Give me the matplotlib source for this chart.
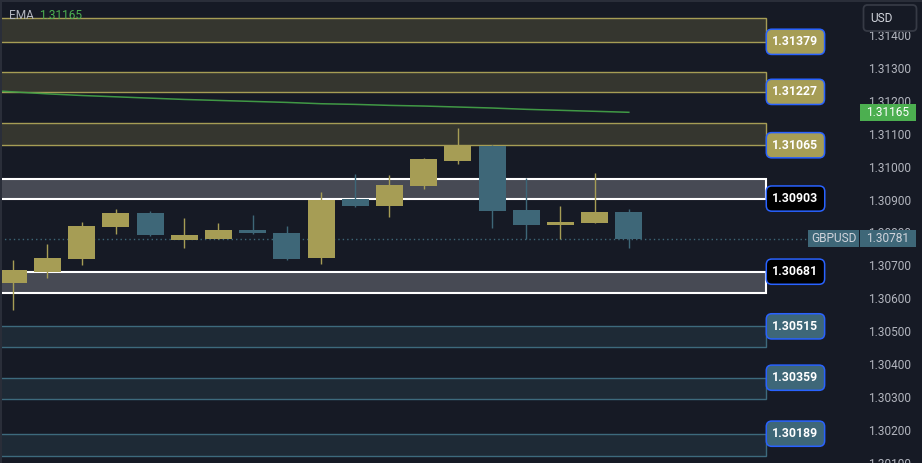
import matplotlib
matplotlib.use("Agg")
import matplotlib.pyplot as plt
import matplotlib.transforms as mtransforms
from matplotlib.patches import Rectangle, FancyBboxPatch

plt.rcParams['font.family'] = ['Roboto', 'DejaVu Sans']

# ---------------- data ----------------
opens  = [1.30646, 1.30679, 1.30719, 1.30816, 1.30858, 1.30776, 1.30779, 1.30807, 1.30797, 1.30722,
          1.30901, 1.30879, 1.30940, 1.31016, 1.31064, 1.30867, 1.30822, 1.30828, 1.30861]
highs  = [1.30716, 1.30764, 1.30831, 1.30870, 1.30864, 1.30843, 1.30828, 1.30852, 1.30819, 1.30922,
          1.30979, 1.30976, 1.31025, 1.31116, 1.31066, 1.30964, 1.30879, 1.30982, 1.30870]
lows   = [1.30564, 1.30661, 1.30700, 1.30794, 1.30790, 1.30752, 1.30779, 1.30794, 1.30716, 1.30703,
          1.30876, 1.30846, 1.30931, 1.31007, 1.30813, 1.30779, 1.30779, 1.30828, 1.30752]
closes = [1.30685, 1.30722, 1.30819, 1.30858, 1.30791, 1.30791, 1.30807, 1.30797, 1.30719, 1.30898,
          1.30879, 1.30943, 1.31022, 1.31064, 1.30864, 1.30822, 1.30831, 1.30861, 1.30781]
# EMA values, starting one bar before the first visible candle
ema = [1.31233, 1.31227, 1.31221, 1.31216, 1.31212, 1.31208, 1.31204, 1.31201, 1.31198, 1.31195,
       1.31191, 1.31189, 1.31186, 1.31184, 1.31181, 1.31178, 1.31174, 1.31171, 1.31168, 1.31165]

zone_near = [1.31379, 1.31227, 1.31065, 1.30903, 1.30681, 1.30515, 1.30359, 1.30189]
zone_far  = [1.31452, 1.31288, 1.31133, 1.30963, 1.30615, 1.30451, 1.30294, 1.30121]
zone_kind = ['res', 'res', 'res', 'key', 'key', 'sup', 'sup', 'sup']

last_price = 1.30781
ema_last = 1.31165
symbol = 'GBPUSD'
currency = 'USD'
price_ticks = [1.301, 1.302, 1.303, 1.304, 1.305, 1.306, 1.307, 1.308,
               1.309, 1.310, 1.311, 1.312, 1.313, 1.314]
price_tick_labels = ['1.30100', '1.30200', '1.30300', '1.30400', '1.30500', '1.30600', '1.30700',
                     '1.30800', '1.30900', '1.31000', '1.31100', '1.31200', '1.31300', '1.31400']

# ---------------- style ----------------
BG = '#161a25'
UP = '#a69d55'
DOWN = '#3e6778'
TXT = '#b2b5be'
styles = {
    'res': dict(fill='#35362f', edge='#a69d55', lw=1.0, label='#a69d55'),
    'key': dict(fill='#474a54', edge='#ffffff', lw=1.5, label='#000000'),
    'sup': dict(fill='#1e2a36', edge='#3d6a7d', lw=1.0, label='#3e6778'),
}

W, H = 922, 463
fig = plt.figure(figsize=(W / 100, H / 100), dpi=100, facecolor=BG)
AX_W = 860
ax = fig.add_axes([0, 0, AX_W / W, 1], facecolor=BG)
x0, x1 = -0.389, 24.76
y0, y1 = 1.30100, 1.31506
ax.set_xlim(x0, x1)
ax.set_ylim(y0, y1)
for s in ax.spines.values():
    s.set_visible(False)
ax.tick_params(axis='x', bottom=False, labelbottom=False)
ax.yaxis.tick_right()
ax.set_yticks(price_ticks, price_tick_labels)
ax.tick_params(axis='y', length=0, pad=6, labelcolor=TXT, labelsize=8.6)

def px_x(px):
    return x0 + px / AX_W * (x1 - x0)

dy_px = (y1 - y0) / H
zone_end = px_x(766)

# zones
for near, far, kind in zip(zone_near, zone_far, zone_kind):
    st = styles[kind]
    lo, hi = min(near, far), max(near, far)
    ax.add_patch(Rectangle((x0 - 2, lo), zone_end - (x0 - 2), hi - lo,
                           facecolor=st['fill'], edgecolor=st['edge'], lw=st['lw'], zorder=1))

# candles
xs = list(range(len(opens)))
for i, (o, h, l, c) in zip(xs, zip(opens, highs, lows, closes)):
    col = UP if c >= o else DOWN
    ax.vlines(i, l, h, colors=col, lw=1.0, zorder=3)
    body = max(abs(c - o), 1.5 * dy_px)
    ax.bar(i, body, bottom=min(o, c), width=0.79, color=col, lw=0, zorder=4)

# EMA
ax.plot(list(range(-1, len(ema) - 1)), ema, color='#43a047', lw=1.1, alpha=0.95, zorder=5)

# last price dotted line
ax.hlines(last_price, x0, px_x(808), colors=DOWN, linestyles=(0, (1, 2.2)), lw=1.0, zorder=2)

# zone labels
for near, kind in zip(zone_near, zone_kind):
    st = styles[kind]
    ax.annotate(f'{near:.5f}', xy=(zone_end, near), xytext=(4.6, 0), textcoords='offset points',
                ha='left', va='center', fontsize=8.8, fontweight='bold', color='white',
                bbox=dict(boxstyle='round,pad=0.5,rounding_size=0.45', fc=st['label'],
                          ec='#2962ff', lw=1.1),
                zorder=10, annotation_clip=False)

# right-axis boxes (figure-pixel x, data y)
tr = mtransforms.blended_transform_factory(fig.transFigure, ax.transData)

def box(px_left, px_right, price, height_px, fc, text, tcolor):
    h = height_px * dy_px
    ax.add_patch(Rectangle((px_left / W, price - h / 2), (px_right - px_left) / W, h,
                           transform=tr, facecolor=fc, edgecolor='none', clip_on=False, zorder=11))
    ax.text((px_left + px_right) / 2 / W, price, text, transform=tr, ha='center', va='center',
            fontsize=8.6, color=tcolor, clip_on=False, zorder=12)

box(860, 916, ema_last, 17, '#4caf50', f'{ema_last:.5f}', 'white')
box(808, 859, last_price, 17, DOWN, symbol, '#d1d4dc')
box(860, 916, last_price, 17, DOWN, f'{last_price:.5f}', '#d1d4dc')

# currency box (pixel coordinates, origin bottom-left)
fig.patches.append(FancyBboxPatch((863.5, H - 31), 53, 26, boxstyle='round,pad=0,rounding_size=4',
                                  transform=mtransforms.IdentityTransform(), facecolor=BG,
                                  edgecolor='#363a45', lw=1.3, zorder=20))
fig.text(881 / W, 1 - 18 / H, currency, ha='center', va='center', fontsize=8.6, color='#d1d4dc',
         zorder=21)

# EMA legend
fig.text(9 / W, 1 - 15.5 / H, 'EMA', ha='left', va='center', fontsize=8.6, color=TXT)
fig.text(39 / W, 1 - 15.5 / H, f'{ema_last:.5f}', ha='left', va='center', fontsize=8.6,
         color='#4caf50')

# frame edges
fig.patches.append(Rectangle((0, 0), 2 / W, 1, transform=fig.transFigure, facecolor='#2a2e39',
                             edgecolor='none', zorder=30))
fig.patches.append(Rectangle((0, 1 - 1.5 / H), 1, 1.5 / H, transform=fig.transFigure,
                             facecolor='#2a2e39', edgecolor='none', zorder=30))

fig.savefig('out.png', dpi=100, facecolor=BG)
